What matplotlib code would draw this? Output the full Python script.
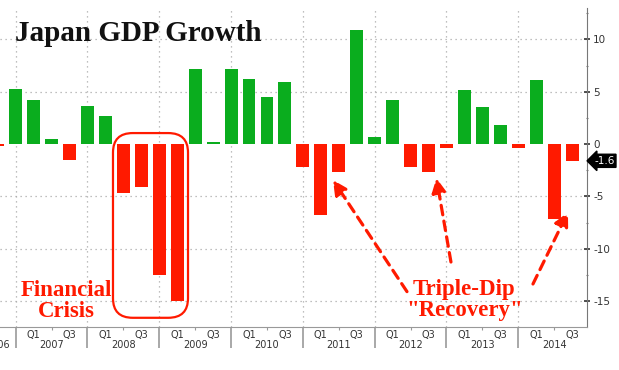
import numpy as np
import matplotlib
matplotlib.use("Agg")
import matplotlib.pyplot as plt
import matplotlib.transforms as mtransforms
from matplotlib.patches import FancyBboxPatch

# quarterly GDP growth, annualized %, from 2006Q3 to 2014Q3
quarters = ["2006Q3", "2006Q4",
            "2007Q1", "2007Q2", "2007Q3", "2007Q4",
            "2008Q1", "2008Q2", "2008Q3", "2008Q4",
            "2009Q1", "2009Q2", "2009Q3", "2009Q4",
            "2010Q1", "2010Q2", "2010Q3", "2010Q4",
            "2011Q1", "2011Q2", "2011Q3", "2011Q4",
            "2012Q1", "2012Q2", "2012Q3", "2012Q4",
            "2013Q1", "2013Q2", "2013Q3", "2013Q4",
            "2014Q1", "2014Q2", "2014Q3"]
growth = [-0.2, 5.3,
          4.2, 0.5, -1.5, 3.6,
          2.7, -4.7, -4.1, -12.5,
          -15.0, 7.2, 0.2, 7.2,
          6.2, 4.5, 5.9, -2.2,
          -6.8, -2.7, 10.9, 0.7,
          4.2, -2.2, -2.7, -0.4,
          5.2, 3.5, 1.8, -0.4,
          6.1, -7.2, -1.6]
years = [2006, 2007, 2008, 2009, 2010, 2011, 2012, 2013, 2014]
yticks = [10, 5, 0, -5, -10, -15]

GREEN = "#0aad1e"
RED = "#ff1a00"

# bars sit at the quarter end; x=0 is the start of 2007
x = np.arange(len(growth)) - 1
colors = [GREEN if v >= 0 else RED for v in growth]

fig = plt.figure(figsize=(6.19, 3.70), dpi=100)
ax = fig.add_axes([0, 43 / 370, 587 / 619, 319 / 370])

ax.bar(x, growth, width=0.72, color=colors, zorder=3)

# grid
for yy in [10, 5, -5, -10, -15]:
    ax.axhline(yy, color="#aaaaaa", lw=0.9, ls=(0, (1, 3)), zorder=1)
year_starts = [(y - 2007) * 4 for y in years[1:]]
for xs in year_starts:
    ax.axvline(xs, color="#aaaaaa", lw=0.9, ls=(0, (1, 3)), zorder=1)

# spines / ticks
for s in ["top", "left"]:
    ax.spines[s].set_visible(False)
ax.spines["right"].set_color("#777777")
ax.spines["bottom"].set_color("#999999")
ax.yaxis.tick_right()
ax.set_yticks(yticks)
ax.set_yticklabels([str(t) for t in yticks], fontsize=7.5, color="#222222")
ax.set_yticks(np.arange(-15, 13, 2.5), minor=True)
ax.tick_params(axis="y", which="major", direction="inout", length=5, width=1.2, pad=2, colors="#333333")
ax.tick_params(axis="y", which="minor", direction="inout", length=2, width=0.8, colors="#777777")

ax.set_xticks(year_starts)
ax.set_xticklabels([])
ax.set_xticks([s + 2 for s in year_starts], minor=True)
ax.tick_params(axis="x", which="major", direction="out", length=15, width=1.2, colors="#999999")
ax.tick_params(axis="x", which="minor", direction="out", length=2.5, width=0.8, colors="#999999")

ax.set_xlim(-0.875, 31.83)
ax.set_ylim(-17.48, 13.0)

# x labels: Q1 / Q3 and year
trans = mtransforms.blended_transform_factory(ax.transData, ax.transAxes)
for y in years:
    s = (y - 2007) * 4
    if y == 2006:
        ax.text(-0.32, -0.057, "2006", transform=trans, ha="right", va="center",
                fontsize=7, color="#333333", clip_on=False)
        continue
    ax.text(s + 1, -0.026, "Q1", transform=trans, ha="center", va="center", fontsize=7, color="#333333")
    ax.text(s + 3, -0.026, "Q3", transform=trans, ha="center", va="center", fontsize=7, color="#333333")
    ax.text(s + 2, -0.057, str(y), transform=trans, ha="center", va="center", fontsize=7, color="#333333")

# last value tag
ax.text(1.012, -1.6, "-1.6", transform=mtransforms.blended_transform_factory(ax.transAxes, ax.transData),
        ha="left", va="center", fontsize=7.5, color="white", clip_on=False,
        bbox=dict(boxstyle="larrow,pad=0.15", fc="black", ec="black"))

# title
fig.text(15 / 619, 1 - 41 / 370, "Japan GDP Growth", family="Liberation Serif",
         fontsize=21, fontweight="bold", color="#111111", ha="left", va="baseline")

# financial crisis box
box = FancyBboxPatch((5.42, -16.6), 9.6 - 5.42, 1.05 + 16.6,
                     boxstyle="round,pad=0,rounding_size=1.1", mutation_aspect=1.7,
                     fc="none", ec=RED, lw=1.6, zorder=4)
ax.add_patch(box)
ax.text(2.8, -15.0, "Financial\nCrisis", family="Liberation Serif", fontsize=16.5,
        fontweight="bold", color=RED, ha="center", va="center", linespacing=0.95)

ax.text(25.0, -14.9, "Triple-Dip\n\"Recovery\"", family="Liberation Serif", fontsize=16.5,
        fontweight="bold", color=RED, ha="center", va="center", linespacing=0.95)

arrow_kw = dict(arrowstyle="-|>,head_length=0.7,head_width=0.35", color=RED, lw=2.3,
                ls=(0, (3, 2)), mutation_scale=12, shrinkA=0, shrinkB=0)
ax.annotate("", xy=(17.68, -3.44), xytext=(21.8, -14.1), arrowprops=arrow_kw)
ax.annotate("", xy=(23.44, -3.25), xytext=(24.25, -11.27), arrowprops=arrow_kw)
ax.annotate("", xy=(30.77, -6.5), xytext=(28.82, -13.37), arrowprops=arrow_kw)

fig.savefig("out.png", dpi=100)
